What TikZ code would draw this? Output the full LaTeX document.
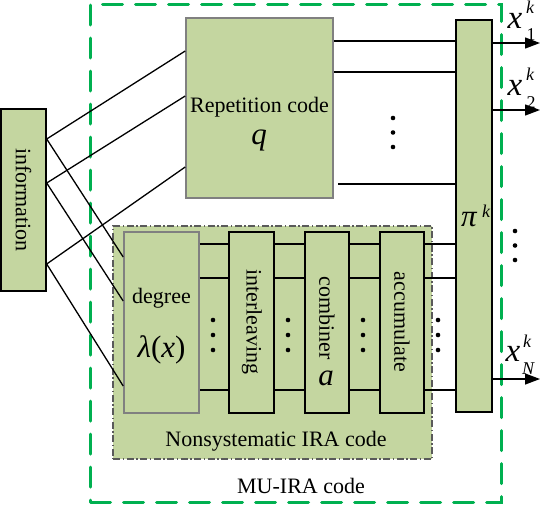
\documentclass[tikz,border=0pt]{standalone}
\usepackage{fontspec}
\setmainfont{Liberation Serif}
\usetikzlibrary{arrows.meta}
\definecolor{boxgreen}{RGB}{196,214,160}
\definecolor{dashgreen}{RGB}{0,176,80}
\definecolor{graybd}{RGB}{128,128,128}
\definecolor{darkbd}{RGB}{90,90,90}
\begin{document}
\begin{tikzpicture}[x=1pt,y=-1pt,
  every node/.style={font=\fontsize{22}{26}\selectfont, inner sep=0pt},
  blkbox/.style={draw=black, fill=boxgreen, line width=1.4pt},
  graybox/.style={draw=graybd, fill=boxgreen, line width=1.6pt},
  conn/.style={draw=black, line width=1.3pt},
  outarrow/.style={draw=black, line width=1.3pt, -{Triangle[length=15pt,width=11pt]}},
  dotfill/.style={fill=black},
  bigmath/.style={font=\fontsize{31}{34}\selectfont\itshape},
  xmath/.style={font=\fontsize{33}{36}\selectfont\itshape},
  smallmath/.style={font=\fontsize{18}{20}\selectfont},
  smallit/.style={font=\fontsize{18}{20}\selectfont\itshape}
]
\useasboundingbox (0,0) rectangle (540,504);

% outer MU-IRA dashed box
\node[draw=dashgreen, line width=3pt, dash pattern=on 20pt off 13pt, line cap=round,
      minimum width=410.5pt, minimum height=498pt] (mu) at (295.75,253) {};

% nonsystematic IRA box
\node[draw=darkbd, fill=boxgreen, line width=1.2pt, dash pattern=on 7pt off 2.5pt on 1.5pt off 2.5pt,
      minimum width=319pt, minimum height=233pt] (ira) at (272.5,342.5) {};

% boxes
\node[blkbox, minimum width=45pt, minimum height=182pt] (info) at (23.5,200) {};
\node[graybox, minimum width=147pt, minimum height=180pt] (rep) at (259.5,108) {};
\node[blkbox, minimum width=36pt, minimum height=392pt] (pi) at (474,216) {};
\node[graybox, minimum width=75pt, minimum height=181pt] (deg) at (161.5,322.5) {};
\node[blkbox, minimum width=45pt, minimum height=181pt] (intl) at (251.5,322.5) {};
\node[blkbox, minimum width=44pt, minimum height=181pt] (comb) at (327,322.5) {};
\node[blkbox, minimum width=44pt, minimum height=181pt] (acc) at (402,322.5) {};

% texts
\node[rotate=-90] (tinfo) at (23.5,200) {information};
\node (trep) at (259.5,107) {Repetition code};
\node[bigmath] (tq) at (259,140) {q};
\node (tdeg) at (161.5,298) {degree};
\node[bigmath] (tlam) at (161.5,350) {λ{\upshape(}x{\upshape)}};
\node[rotate=-90] (tintl) at (252,322) {interleaving};
\node[rotate=-90] (tcomb) at (327,318) {combiner};
\node[bigmath] (ta) at (326,378) {a};
\node[rotate=-90] (tacc) at (402,322) {accumulate};
\node[bigmath] (tpi) at (469,220) {π};
\node[smallit] (tpik) at (486,211) {k};
\node (tira) at (276,441) {Nonsystematic IRA code};
\node (tmu) at (301,486) {MU-IRA code};

% output labels
\node[xmath] (x1) at (515,21) {x};
\node[smallit] (x1k) at (530,7) {k};
\node[smallmath] (x1s) at (531,35) {1};
\node[xmath] (x2) at (515,88) {x};
\node[smallit] (x2k) at (530,74) {k};
\node[smallmath] (x2s) at (531,103) {2};
\node[xmath] (xN) at (513,354) {x};
\node[smallit] (xNk) at (527,341) {k};
\node[smallit] (xNs) at (528,369) {N};

% connectors information -> repetition / degree
\draw[conn] (info.east |- 0,139) -- (rep.west |- 0,51);
\draw[conn] (info.east |- 0,139) -- (deg.west |- 0,257);
\draw[conn] (info.east |- 0,183) -- (rep.west |- 0,96);
\draw[conn] (info.east |- 0,183) -- (deg.west |- 0,301);
\draw[conn] (info.east |- 0,264) -- (rep.west |- 0,167);
\draw[conn] (info.east |- 0,264) -- (deg.west |- 0,386);

% repetition -> pi
\draw[conn] (rep.east |- 0,41) -- (pi.west |- 0,41);
\draw[conn] (rep.east |- 0,72) -- (pi.west |- 0,72);
\coordinate (r3) at (338,184);
\draw[conn] (r3) -- (pi.west |- 0,184);

% IRA chain
\foreach \yy in {244,278,390}{
  \draw[conn] (deg.east |- 0,\yy) -- (intl.west |- 0,\yy);
  \draw[conn] (intl.east |- 0,\yy) -- (comb.west |- 0,\yy);
  \draw[conn] (comb.east |- 0,\yy) -- (acc.west |- 0,\yy);
  \draw[conn] (acc.east |- 0,\yy) -- (pi.west |- 0,\yy);
}

% outputs
\coordinate (o1) at (540,43);
\coordinate (o2) at (540,110);
\coordinate (o3) at (540,379);
\draw[outarrow] (pi.east |- o1) -- (o1);
\draw[outarrow] (pi.east |- o2) -- (o2);
\draw[outarrow] (pi.east |- o3) -- (o3);

% dots
\foreach \yy in {118,132.5,147} \fill[dotfill] (393,\yy) circle (2.3pt);
\foreach \xx in {213,288,363,438}
  \foreach \yy in {320,335,350} \fill[dotfill] (\xx,\yy) circle (2.3pt);
\foreach \yy in {231,245.5,260} \fill[dotfill] (515,\yy) circle (2.3pt);
\end{tikzpicture}
\end{document}
